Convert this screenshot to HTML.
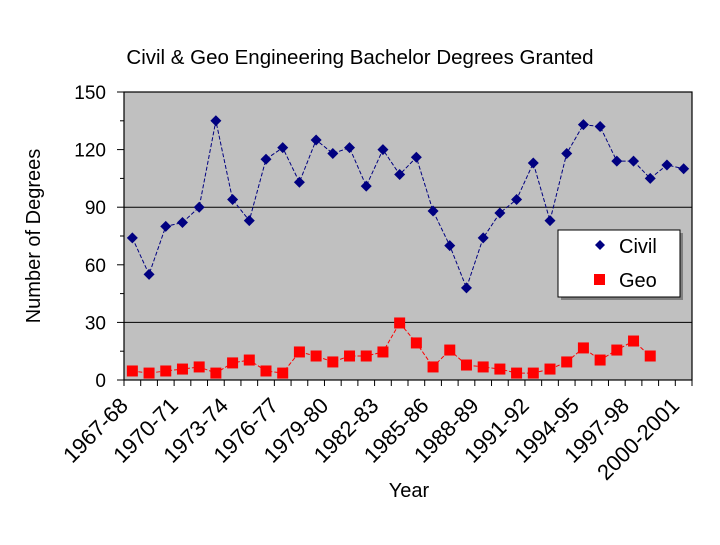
<!DOCTYPE html>
<html><head><meta charset="utf-8"><style>
body{margin:0;background:#fff;width:720px;height:540px;overflow:hidden}
text{font-family:"Liberation Sans",Arial,sans-serif}
</style></head><body>
<svg id="c" width="720" height="540">
<text x="360" y="64" font-size="20.5" text-anchor="middle">Civil &amp; Geo Engineering Bachelor Degrees Granted</text>
<rect x="124" y="92" width="568" height="288" fill="#c0c0c0" stroke="#000" stroke-width="1.2"/>
<g id="grid"></g><g id="ax"></g><g id="series"></g>
<text transform="translate(40,236) rotate(-90)" font-size="20" text-anchor="middle">Number of Degrees</text>
<text x="409" y="497" font-size="20" text-anchor="middle">Year</text>
<g>
<rect x="561" y="233" width="122" height="67" fill="#808080"/>
<rect x="558" y="230" width="122" height="67" fill="#fff" stroke="#000"/>
<path d="M600,240 L605,245 L600,250 L595,245Z" fill="#000080"/>
<text x="619" y="253" font-size="20">Civil</text>
<rect x="594" y="274" width="11" height="11" fill="#ff0000"/>
<text x="619" y="287" font-size="20">Geo</text>
</g>
</svg>
<script>
const years=[];for(let y=1967;y<=2000;y++){years.push(y+"-"+(y===1999?"2000":y===2000?"2001":String((y+1)%100).padStart(2,"0")));}
const civil=[74,55,80,82,90,135,94,83,115,121,103,125,118,121,101,120,107,116,88,70,48,74,87,94,113,83,118,133,132,114,114,105,112,110];
const geo=[4.7,3.6,4.7,5.7,6.8,3.6,8.9,10.4,4.7,3.6,14.6,12.5,9.4,12.5,12.5,14.6,29.7,19.3,6.8,15.6,7.8,6.8,5.7,3.6,3.6,5.7,9.4,16.7,10.4,15.6,20.3,12.5];
const yTicks=[0,30,60,90,120,150];
const NS="http://www.w3.org/2000/svg";
const L=124,R=692,T=92,B=380,bw=(R-L)/years.length;
const X=i=>L+bw*(i+0.5), Y=v=>B-(v/150)*(B-T);
function mk(t,a,p){const e=document.createElementNS(NS,t);for(const k in a)e.setAttribute(k,a[k]);(p||document.getElementById('c')).appendChild(e);return e;}
const ax=document.getElementById('ax'),gr=document.getElementById('grid'),se=document.getElementById('series');
[30,90].forEach(v=>{const l=mk('line',{x1:L,x2:R,y1:Y(v),y2:Y(v),stroke:'#000'},gr);

});
yTicks.forEach(v=>{const l=mk('line',{x1:L-7,x2:L,y1:Y(v),y2:Y(v),stroke:'#000'},ax);


const t=mk('text',{x:L-18,y:Y(v)+7,'font-size':19,'text-anchor':'end'},ax);t.textContent=v;

});
for(let v=15;v<150;v+=30){const l=mk('line',{x1:L-4,x2:L,y1:Y(v),y2:Y(v),stroke:'#000'},ax);

}
for(let i=0;i<=years.length;i++){const l=mk('line',{x1:L+bw*i,x2:L+bw*i,y1:B,y2:B+6,stroke:'#000'},ax);

}
years.forEach((y,i)=>{if(i%3)return;const t=mk('text',{transform:`translate(${X(i)-3},${B+27}) rotate(-45)`,'font-size':22,'text-anchor':'end'},ax);t.textContent=y;

});
function line(d,c,dash,nm){const p=mk('polyline',{points:d.map((v,i)=>X(i)+','+Y(v)).join(' '),fill:'none',stroke:c,'stroke-width':1,'stroke-dasharray':dash},se);

}
line(civil,'#000080','4,2','civil-line');line(geo,'#ff0000','4,2','geo-line');
civil.forEach((v,i)=>{const x=X(i),y=Y(v);const p=mk('path',{d:`M${x},${y-5.5}L${x+5.5},${y}L${x},${y+5.5}L${x-5.5},${y}Z`,fill:'#000080'},se);

});
geo.forEach((v,i)=>{const r=mk('rect',{x:X(i)-5.5,y:Y(v)-5.5,width:11,height:11,fill:'#ff0000'},se);

});
</script>
</body></html>
